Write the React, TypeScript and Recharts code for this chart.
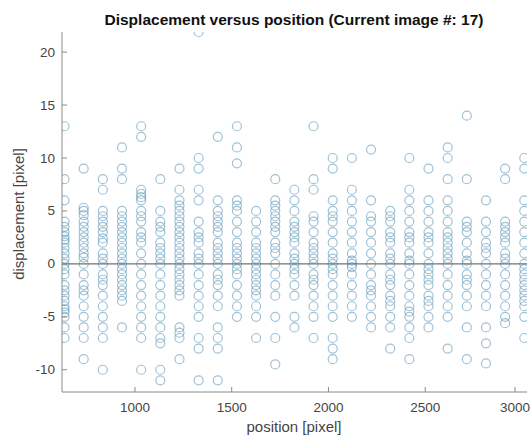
import { ScatterChart, Scatter, XAxis, YAxis, ReferenceLine } from "recharts";

// column positions (pixel) of the tracked markers
const positions = [
  636, 735, 834, 933, 1032, 1131, 1230, 1329, 1428, 1527, 1626, 1725, 1824,
  1923, 2022, 2121, 2220, 2319, 2418, 2517, 2616, 2715, 2814, 2913, 3012,
];

// measured displacements for every column, same order as positions
const displacements: number[][] = [
  [13, 8, 6, 4, 3.5, 3, 2.6, 2.3, 2, 1.5, 1, 0.5, 0, -0.5, -1, -2, -2.5, -3, -3.5, -4, -4.3, -4.6, -5, -6, -7],
  [9, 5.3, 5, 4.6, 4, 3.5, 3, 2.5, 2, 1.5, 1, 0.6, 0, -1, -2, -2.5, -3, -4, -5, -6, -7, -9],
  [8, 7, 5, 4.5, 4, 3.5, 3, 2.4, 2, 1, 0.5, 0, -1, -1.5, -2, -3, -4, -5, -6, -7, -10],
  [11, 9, 8, 5, 4.5, 4, 3.5, 3, 2.5, 2, 1.5, 1, 0.5, 0, -0.5, -1, -1.5, -2, -2.5, -3, -3.5, -6],
  [13, 12, 7, 6.6, 6.3, 6, 5, 4.5, 4, 3, 2.5, 2, 1, 0, -1, -2, -3, -4, -5, -6, -7, -10],
  [8, 5, 4, 3.5, 3, 2, 1.5, 1, 0.5, 0, -1, -2, -3, -4, -5, -6, -7, -7.5, -10, -11],
  [9, 7, 6, 5.5, 5, 4.5, 4, 3.5, 3, 2.5, 2, 1.5, 1, 0.5, 0, -0.5, -1, -1.5, -2, -2.5, -3, -6, -6.5, -7, -9],
  [21.9, 10, 9, 7, 6, 4, 3, 2.5, 2, 1, 0.5, 0, -1, -2, -3, -4, -5, -7, -8, -11],
  [12, 6, 5, 4.5, 4, 3.5, 3, 2, 1.5, 1, 0.5, 0, -1, -1.5, -2, -3, -4, -6, -7, -8, -11],
  [13, 11, 9.5, 6, 5.5, 5, 4, 3, 2, 1.5, 1, 0.5, 0, -0.5, -1, -2, -3, -4, -5],
  [5, 4, 3, 2, 1.5, 1, 0.5, 0, -0.5, -1, -1.5, -2, -2.5, -3, -4, -5, -7],
  [8, 6, 5.5, 5, 4.5, 4, 3.5, 3, 2, 1.5, 1, 0, -1, -2, -3, -5, -7, -9.5],
  [7, 6, 5, 4, 3.5, 3, 2.5, 2, 1, 0.5, 0, -0.5, -1, -2, -3, -5, -6],
  [13, 8, 7, 4.5, 4, 3, 2, 1.5, 1, 0.5, 0, -1, -1.5, -2, -3, -4, -5, -7],
  [10, 9, 6, 5, 4.5, 4, 3, 2, 1, 0.5, 0, -0.5, -1, -2, -3, -4, -5, -7, -8, -9],
  [10, 7, 6, 5, 4, 3, 2, 1, 0.3, 0, -0.3, -1, -2, -3, -4, -5],
  [10.8, 6, 4.5, 4, 3, 2, 1, 0, -1, -2, -2.5, -3, -4, -5, -6],
  [5, 4.5, 4, 3, 2.5, 2, 1, 0.5, 0, -1, -1.5, -2, -3, -3.5, -4, -5, -6, -8],
  [10, 7, 6, 5, 4, 3, 2.5, 2, 1, 0.3, 0, -1, -2, -3, -4, -4.5, -5, -6, -7, -9],
  [9, 6, 5, 4, 3, 2.5, 2, 1, 0, -0.5, -1, -1.5, -2, -3, -3.5, -4, -5, -6],
  [11, 10, 8, 6, 5, 4, 3, 2.5, 2, 1.5, 1, 0.5, 0, -1, -2, -3, -4, -5, -8],
  [14, 8, 4, 3.5, 3, 2, 1, 0.3, 0, -1, -1.5, -2, -3, -4, -6, -9],
  [6, 4, 3, 2, 1.5, 1, 0, -1, -2, -3, -4, -6, -7.5, -9.4],
  [9, 8, 4, 3.5, 3, 2.5, 2, 1, 0.5, 0, -1, -2, -3, -4, -5, -5.6],
  [10, 9, 6, 5, 4, 3, 2, 1, 0, -0.5, -1, -1.5, -2, -2.5, -3, -3.5, -4, -5, -7],
];

const xTicks = [1000, 1500, 2000, 2500, 3000];
const yTicks = [-10, -5, 0, 5, 10, 15, 20];

const points = positions.flatMap((position, i) =>
  displacements[i].map((displacement) => ({ position, displacement }))
);

const AXIS = "#8a8a8a";
const LABEL = "#454545";
const FONT = "'Liberation Sans', Arial, sans-serif";
const TICK_LEN = 5;

const Ring = (props: any) => (
  <circle
    cx={props.cx}
    cy={props.cy}
    r={4.5}
    fill="none"
    stroke="#3f86ae"
    strokeOpacity={0.5}
    strokeWidth={1.2}
  />
);

const BottomTick = ({ x, y, payload }: any) => (
  <g>
    <line x1={x} x2={x} y1={y} y2={y - TICK_LEN} stroke={AXIS} />
    <text x={x} y={y + 20} textAnchor="middle" fill={LABEL} fontSize={13.5} fontFamily={FONT}>
      {payload.value}
    </text>
  </g>
);

const TopTick = ({ x, y }: any) => (
  <line x1={x} x2={x} y1={y} y2={y + TICK_LEN} stroke={AXIS} />
);

const LeftTick = ({ x, y, payload }: any) => (
  <g>
    <line x1={x} x2={x + TICK_LEN} y1={y} y2={y} stroke={AXIS} />
    <text x={x - 7} y={y + 4.5} textAnchor="end" fill={LABEL} fontSize={13.5} fontFamily={FONT}>
      {payload.value}
    </text>
  </g>
);

const RightTick = ({ x, y }: any) => (
  <line x1={x} x2={x - TICK_LEN} y1={y} y2={y} stroke={AXIS} />
);

export default function App() {
  return (
    <div style={{ position: "absolute", left: 0, top: 0, width: 531, height: 436, background: "#fff" }}>
      <ScatterChart
        width={531}
        height={436}
        margin={{ top: 32, right: 4, bottom: 0, left: 0 }}
      >
        <XAxis
          xAxisId="bottom"
          dataKey="position"
          type="number"
          domain={[623, 3026]}
          ticks={xTicks}
          allowDataOverflow
          height={44}
          tickSize={0}
          tickMargin={0}
          tick={<BottomTick />}
          axisLine={{ stroke: AXIS }}
        />
        <XAxis
          xAxisId="top"
          orientation="top"
          dataKey="position"
          type="number"
          domain={[623, 3026]}
          ticks={xTicks}
          allowDataOverflow
          height={0}
          tickSize={0}
          tickMargin={0}
          tick={<TopTick />}
          axisLine={{ stroke: AXIS }}
        />
        <YAxis
          yAxisId="left"
          dataKey="displacement"
          type="number"
          domain={[-12.1, 21.9]}
          ticks={yTicks}
          allowDataOverflow
          width={62}
          tickSize={0}
          tickMargin={0}
          tick={<LeftTick />}
          axisLine={{ stroke: AXIS }}
        />
        <YAxis
          yAxisId="right"
          orientation="right"
          dataKey="displacement"
          type="number"
          domain={[-12.1, 21.9]}
          ticks={yTicks}
          allowDataOverflow
          width={0}
          tickSize={0}
          tickMargin={0}
          tick={<RightTick />}
          axisLine={{ stroke: AXIS }}
        />
        <Scatter
          data={points}
          xAxisId="bottom"
          yAxisId="left"
          shape={<Ring />}
          isAnimationActive={false}
        />
        <ReferenceLine
          y={0}
          xAxisId="bottom"
          yAxisId="left"
          stroke="#77706c"
          strokeWidth={1.2}
        />
      </ScatterChart>
      <svg
        width={531}
        height={436}
        style={{ position: "absolute", left: 0, top: 0, pointerEvents: "none" }}
      >
        <text x={294} y={25} textAnchor="middle" fontSize={15.5} fontWeight="bold" fill="#111" fontFamily={FONT}>
          Displacement versus position (Current image #: 17)
        </text>
        <text x={294} y={432} textAnchor="middle" fontSize={15} fill={LABEL} fontFamily={FONT}>
          position [pixel]
        </text>
        <text
          x={0}
          y={0}
          transform="translate(24 214) rotate(-90)"
          textAnchor="middle"
          fontSize={15}
          fill={LABEL}
          fontFamily={FONT}
        >
          displacement [pixel]
        </text>
      </svg>
    </div>
  );
}
